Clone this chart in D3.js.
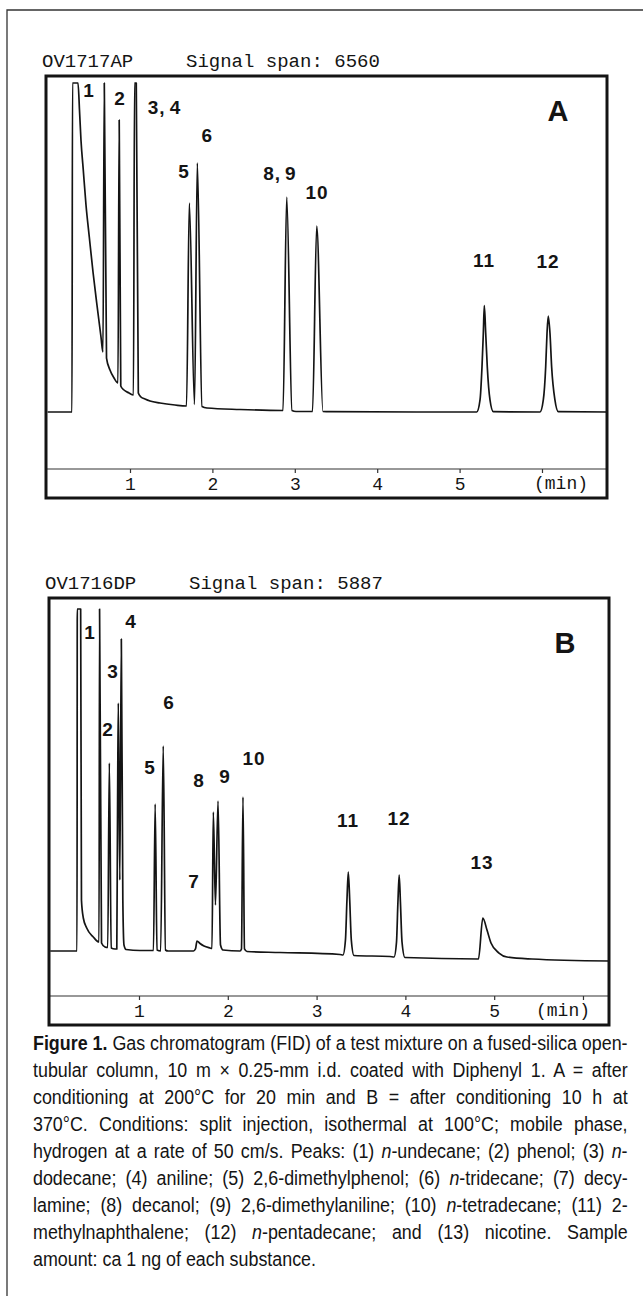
<!DOCTYPE html>
<html><head><meta charset="utf-8">
<script src="https://cdn.jsdelivr.net/npm/d3@7"></script>
<style>
html,body{margin:0;padding:0;background:#fff;}
svg{display:block;}
</style></head><body>
<svg id="fig" width="643" height="1296"></svg>
<script>
// ---------------- DATA ----------------
const tickValues = [1, 2, 3, 4, 5, 6];
const tickLabels = ["1", "2", "3", "4", "5", ""];
const axisUnit = "(min)";

// Panel A
const headerA = ["OV1717AP", "Signal span: 6560"];
const panelNameA = "A";
const timeA = [0.000,0.296,0.302,0.369,0.387,0.405,0.433,0.466,0.506,0.551,0.596,0.648,0.672,0.688,0.715,0.757,0.806,0.854,0.869,0.888,0.927,0.988,1.042,1.055,1.076,1.101,1.133,1.182,1.243,1.364,1.546,1.686,1.720,1.783,1.817,1.874,1.934,2.335,2.857,2.902,2.966,3.015,3.215,3.266,3.342,3.427,4.519,5.208,5.248,5.272,5.288,5.300,5.317,5.336,5.369,5.409,5.976,6.016,6.045,6.061,6.076,6.097,6.117,6.157,6.198,6.789];
const signalA = [14.50,14.50,98.22,98.22,91.35,83.72,76.08,67.18,59.03,50.13,42.24,33.59,29.77,98.22,28.24,25.19,23.16,21.88,88.80,21.12,20.10,19.34,18.83,98.22,98.22,19.34,18.32,17.81,17.30,16.79,16.28,16.03,67.68,16.41,77.86,15.90,15.52,15.14,14.89,69.21,14.89,14.63,14.63,61.83,14.63,14.58,14.50,14.50,17.56,26.03,34.53,41.55,34.53,26.03,17.56,14.58,14.50,17.56,26.03,34.53,38.93,34.53,26.03,17.56,14.58,14.50];
const peakLabelsA = ["1", "2", "3,4", "5", "6", "8,9", "10", "11", "12"];
const labelTimeA = [0.502, 0.879, 1.419, 1.655, 1.937, 2.820, 3.269, 5.296, 6.073];
const labelSignalA = [94.66, 92.62, 90.33, 74.05, 83.21, 73.54, 68.70, 51.40, 51.15];
const nameTimeA = 6.194, nameSignalA = 88.55;

// Panel B
const headerB = ["OV1716DP", "Signal span: 5887"];
const panelNameB = "B";
const timeB = [0.000,0.302,0.305,0.343,0.352,0.373,0.411,0.485,0.550,0.556,0.578,0.617,0.648,0.666,0.687,0.730,0.750,0.759,0.767,0.784,0.801,0.818,0.831,0.854,1.011,1.163,1.182,1.203,1.244,1.273,1.298,1.327,1.614,1.636,1.653,1.687,1.732,1.800,1.822,1.837,1.861,1.890,1.918,1.946,2.137,2.154,2.171,2.188,2.216,2.588,3.264,3.297,3.325,3.342,3.357,3.373,3.391,3.421,3.827,3.872,3.900,3.916,3.930,3.944,3.962,3.995,4.823,4.872,4.919,4.964,5.054,5.144,5.426,6.293];
const signalB = [11.31,11.31,97.24,97.24,24.12,19.60,17.09,14.82,13.57,97.24,13.32,12.31,12.19,58.54,12.06,11.81,11.81,49.25,73.62,29.15,89.70,24.12,12.81,11.68,11.43,11.43,48.24,11.56,11.31,62.81,11.56,11.31,11.31,11.81,13.82,13.19,12.56,12.06,11.93,46.23,22.86,48.99,12.81,11.56,11.31,11.81,50.00,11.81,11.18,10.93,10.43,10.30,14.07,24.12,31.16,24.12,14.07,10.18,9.92,9.80,13.57,23.62,30.40,23.62,13.57,9.67,9.30,19.60,16.58,13.32,10.80,9.80,9.30,8.79];
const peakLabelsB = ["1", "2", "3", "4", "5", "6", "7", "8", "9", "10", "11", "12", "13"];
const labelTimeB = [0.448, 0.651, 0.707, 0.910, 1.124, 1.338, 1.619, 1.676, 1.968, 2.295, 3.353, 3.928, 4.863];
const labelSignalB = [89.70, 65.33, 79.90, 92.46, 55.78, 72.11, 27.14, 52.51, 53.52, 58.04, 42.46, 42.96, 31.91];
const nameTimeB = 5.797, nameSignalB = 86.18;

// Caption
const captionLines = [
  [["Figure 1.", "b"], [" Gas chromatogram (FID) of a test mixture on a fused-silica open-", ""]],
  [["tubular column, 10 m \u00d7 0.25-mm i.d. coated with Diphenyl 1. A = after", ""]],
  [["conditioning at 200\u00b0C for 20 min and B = after conditioning 10 h at", ""]],
  [["370\u00b0C. Conditions: split injection, isothermal at 100\u00b0C; mobile phase,", ""]],
  [["hydrogen at a rate of 50 cm/s. Peaks: (1) ", ""], ["n", "i"], ["-undecane; (2) phenol; (3) ", ""], ["n", "i"], ["-", ""]],
  [["dodecane; (4) aniline; (5) 2,6-dimethylphenol; (6) ", ""], ["n", "i"], ["-tridecane; (7) decy-", ""]],
  [["lamine; (8) decanol; (9) 2,6-dimethylaniline; (10) ", ""], ["n", "i"], ["-tetradecane; (11) 2-", ""]],
  [["methylnaphthalene; (12) ", ""], ["n", "i"], ["-pentadecane; and (13) nicotine. Sample", ""]],
  [["amount: ca 1 ng of each substance.", ""]]
];

// ---------------- DRAWING ----------------
const svg = d3.select("#fig");
const ink = "#141414";
const mono = "'Liberation Mono','Courier New',monospace";
const sansBold = "'Liberation Sans',Arial,Helvetica,sans-serif";

// outer figure border (left and top)
svg.append("path").attr("d", "M7,1296 L7,10 L643,10")
  .attr("fill", "none").attr("stroke", "#333").attr("stroke-width", 1.3);

function drawPanel(p) {
  const g = svg.append("g");
  const x = d3.scaleLinear().domain([0, p.tMax]).range([p.x0, p.right]);
  const y = d3.scaleLinear().domain([0, 100]).range([p.axisY, p.top]);
  const id = "clip" + p.name;
  svg.append("defs").append("clipPath").attr("id", id)
    .append("rect").attr("x", p.left).attr("y", p.top + 1)
    .attr("width", p.right - p.left).attr("height", p.bottom - p.top - 2);

  // header
  g.append("text").attr("x", p.left - 4).attr("y", p.top - 9)
    .attr("font-family", mono).attr("font-size", 19).attr("fill", ink).text(p.header[0]);
  g.append("text").attr("x", p.left + 140).attr("y", p.top - 9)
    .attr("font-family", mono).attr("font-size", 19).attr("fill", ink).text(p.header[1]);

  // trace
  const pts = p.time.map((t, i) => [t, p.signal[i]]);
  const line = d3.line().x(d => x(d[0])).y(d => y(d[1])).curve(d3.curveMonotoneX);
  g.append("path").datum(pts).attr("d", line).attr("clip-path", `url(#${id})`)
    .attr("fill", "none").attr("stroke", ink).attr("stroke-width", 1.7)
    .attr("stroke-linejoin", "round");

  // axis line
  g.append("line").attr("x1", p.left).attr("x2", p.right)
    .attr("y1", p.axisY).attr("y2", p.axisY)
    .attr("stroke", "#333").attr("stroke-width", 1.2);
  const ax = g.append("g").attr("transform", `translate(0,${p.axisY})`)
    .call(d3.axisBottom(x).tickValues(tickValues)
      .tickFormat((d, i) => tickLabels[i]).tickSize(4).tickPadding(4));
  ax.select(".domain").remove();
  ax.selectAll(".tick line").attr("stroke", "#333").attr("stroke-width", 1.2);
  ax.selectAll(".tick text").attr("font-family", mono).attr("font-size", 18)
    .attr("fill", ink).attr("dy", "0.7em");
  g.append("text").attr("x", p.right - 46).attr("y", p.axisY + 20)
    .attr("text-anchor", "middle").attr("font-family", mono).attr("font-size", 18)
    .attr("fill", ink).text(axisUnit);

  // peak labels
  p.labels.forEach((lab, i) => {
    const t = g.append("text").attr("x", x(p.labelTime[i])).attr("y", y(p.labelSignal[i]))
      .attr("text-anchor", "middle").attr("font-family", sansBold).attr("font-weight", "bold")
      .attr("font-size", 19).attr("letter-spacing", 1).attr("fill", ink);
    if (lab.includes(",")) {
      const parts = lab.split(",");
      t.append("tspan").text(parts[0] + ",");
      t.append("tspan").attr("dx", 4).text(parts[1]);
    } else t.text(lab);
  });
  g.append("text").attr("x", x(p.nameTime)).attr("y", y(p.nameSignal))
    .attr("text-anchor", "middle").attr("font-family", sansBold).attr("font-weight", "bold")
    .attr("font-size", 29).attr("fill", ink).text(p.name);

  // frame
  g.append("rect").attr("x", p.left).attr("y", p.top)
    .attr("width", p.right - p.left).attr("height", p.bottom - p.top)
    .attr("fill", "none").attr("stroke", ink).attr("stroke-width", 3);
}

drawPanel({name: panelNameA, header: headerA, time: timeA, signal: signalA,
  labels: peakLabelsA, labelTime: labelTimeA, labelSignal: labelSignalA,
  nameTime: nameTimeA, nameSignal: nameSignalA,
  tMax: 6.789, x0: 47.6, left: 46, right: 607, top: 76, bottom: 498, axisY: 469});

drawPanel({name: panelNameB, header: headerB, time: timeB, signal: signalB,
  labels: peakLabelsB, labelTime: labelTimeB, labelSignal: labelSignalB,
  nameTime: nameTimeB, nameSignal: nameSignalB,
  tMax: 6.293, x0: 50.2, left: 49, right: 609, top: 598, bottom: 1025, axisY: 996});

// caption: condensed sans emulated by horizontal scaling, justified with word spacing
const capX = 33, capRight = 628, capY0 = 1050, capStep = 27;
const target = capRight - capX;
const capNodes = captionLines.map((segs, i) => {
  const t = svg.append("text").attr("x", 0).attr("y", 0)
    .attr("font-family", "'Liberation Sans',Arial,Helvetica,sans-serif")
    .attr("font-size", 21).attr("fill", ink);
  segs.forEach(([txt, st]) => {
    const s = t.append("tspan").text(txt);
    if (st === "b") s.attr("font-weight", "bold");
    if (st === "i") s.attr("font-style", "italic");
  });
  return t;
});
const widths = capNodes.map(t => t.node().getComputedTextLength());
const sc = d3.min(widths.slice(0, -1), w => target / w);
capNodes.forEach((t, i) => {
  const txt = captionLines[i].map(s => s[0]).join("");
  const nSpaces = (txt.match(/ /g) || []).length;
  if (i < capNodes.length - 1 && nSpaces > 0) {
    const extra = target / sc - widths[i];
    t.attr("word-spacing", extra / nSpaces);
  }
  t.attr("transform", `translate(${capX},${capY0 + i * capStep}) scale(${sc},1)`);
});
</script>
</body></html>
